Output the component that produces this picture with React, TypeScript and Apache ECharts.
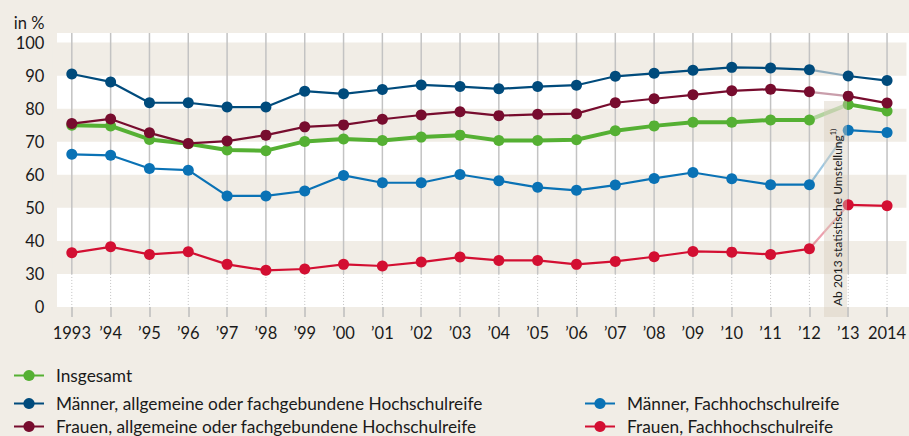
import React, { useEffect, useRef } from "react";
import * as echarts from "echarts";

const years = ["1993", "’94", "’95", "’96", "’97", "’98", "’99", "’00", "’01", "’02", "’03", "’04", "’05", "’06", "’07", "’08", "’09", "’10", "’11", "’12", "’13", "2014"];

const insgesamt = [75.0, 74.8, 70.7, 69.4, 67.5, 67.3, 70.1, 70.8, 70.4, 71.4, 72.0, 70.4, 70.4, 70.6, 73.3, 74.8, 75.9, 75.9, 76.6, 76.6, 81.3, 79.3];
const maennerAllg = [90.5, 88.1, 81.8, 81.8, 80.5, 80.5, 85.3, 84.5, 85.8, 87.2, 86.7, 86.0, 86.7, 87.1, 89.8, 90.7, 91.6, 92.5, 92.3, 91.8, 89.9, 88.5];
const frauenAllg = [75.5, 76.9, 72.7, 69.5, 70.2, 72.0, 74.5, 75.1, 76.8, 78.1, 79.1, 77.9, 78.3, 78.5, 81.8, 83.0, 84.2, 85.4, 85.9, 85.1, 83.8, 81.7];
const maennerFH = [66.2, 65.9, 61.9, 61.4, 53.6, 53.6, 55.1, 59.8, 57.6, 57.6, 60.1, 58.2, 56.2, 55.3, 56.9, 58.9, 60.7, 58.8, 57.0, 57.0, 73.5, 72.8];
const frauenFH = [36.4, 38.2, 35.9, 36.7, 32.9, 31.1, 31.5, 32.9, 32.4, 33.6, 35.1, 34.1, 34.1, 32.9, 33.8, 35.2, 36.8, 36.6, 35.9, 37.6, 50.9, 50.6];

const seriesNames = [
  "Insgesamt",
  "Männer, allgemeine oder fachgebundene Hochschulreife",
  "Frauen, allgemeine oder fachgebundene Hochschulreife",
  "Männer, Fachhochschulreife",
  "Frauen, Fachhochschulreife",
];

// alternating shaded bands of the value axis
const bandRanges = [[90, 100], [70, 80], [50, 60], [30, 40]];
const breakValue = 30; // below this the axis is broken (20 is shown as 0)
const axisBottom = 20;
const axisTop = 102.9;
const lastIndexBefore = 19; // 2012: statistical change afterwards
const annotationText = "Ab 2013 statistische Umstellung";
const annotationNote = "1)";

const BG = "#f1ede6";
const FONT = "Lato, 'Noto Sans', sans-serif";
const TXT = "#1a1a1a";

export default function App() {
  const ref = useRef<HTMLDivElement>(null);

  useEffect(() => {
    document.body.style.margin = "0";
    document.body.style.background = BG;
    const chart = echarts.init(ref.current!, null, { renderer: "svg" });

    const groups = [
      { name: seriesNames[0], data: insgesamt, color: "#55b033", width: 4, size: 11, z: 3 },
      { name: seriesNames[1], data: maennerAllg, color: "#004b7c", width: 2.2, size: 11, z: 4 },
      { name: seriesNames[3], data: maennerFH, color: "#0a72b5", width: 2.2, size: 11, z: 4 },
      { name: seriesNames[2], data: frauenAllg, color: "#770c2e", width: 2.2, size: 11, z: 5 },
      { name: seriesNames[4], data: frauenFH, color: "#d30f32", width: 2.2, size: 11, z: 5 },
    ];

    const lineSeries: any[] = [];
    groups.forEach((g) => {
      lineSeries.push({
        type: "line",
        name: g.name,
        data: g.data.map((v, i) => (i <= lastIndexBefore ? v : "-")),
        z: g.z,
        symbol: "circle",
        symbolSize: g.size,
        color: g.color,
        lineStyle: { color: g.color, width: g.width },
        itemStyle: { color: g.color },
      });
    });
    groups.forEach((g) => {
      lineSeries.push({
        type: "line",
        name: g.name,
        data: g.data.map((v, i) => (i > lastIndexBefore ? v : "-")),
        z: g.z,
        symbol: "circle",
        symbolSize: g.size,
        color: g.color,
        lineStyle: { color: g.color, width: g.width },
        itemStyle: { color: g.color },
      });
      lineSeries.push({
        type: "line",
        name: g.name,
        data: g.data.map((v, i) => (i === lastIndexBefore || i === lastIndexBefore + 1 ? v : "-")),
        z: g.z - 0.5,
        showSymbol: false,
        symbol: "none",
        color: g.color,
        lineStyle: { color: g.color, width: g.width, opacity: 0.4 },
      });
    });

    const legendBase = {
      orient: "horizontal",
      itemWidth: 30,
      itemHeight: 14,
      padding: 0,
      textStyle: { fontSize: 17.3, color: TXT, fontFamily: FONT, padding: [0, 0, 0, 7] },
    };

    const option: any = {
      animation: false,
      backgroundColor: BG,
      textStyle: { fontFamily: FONT },
      grid: { left: 52.4, top: 33, width: 862.2, height: 274 },
      xAxis: {
        type: "category",
        data: years,
        boundaryGap: true,
        axisLine: { show: false },
        axisTick: { show: true, interval: 0, alignWithLabel: true, length: 10, lineStyle: { color: "#bdbdbd", width: 1.5 } },
        axisLabel: { interval: 0, color: TXT, fontSize: 16.5, margin: 17, fontFamily: FONT },
        splitLine: { show: false },
      },
      yAxis: {
        type: "value",
        min: axisBottom,
        max: axisTop,
        interval: 10,
        name: "in %",
        nameLocation: "end",
        nameGap: 2,
        nameTextStyle: { color: TXT, fontSize: 16.5, align: "right", padding: [0, 8, 0, 0], fontFamily: FONT },
        axisLine: { show: false },
        axisTick: { show: false },
        splitLine: { show: false },
        axisLabel: {
          color: TXT,
          fontSize: 16.5,
          margin: 8,
          fontFamily: FONT,
          formatter: (v: number) => (v === axisBottom ? "0" : Math.abs(v % 10) < 1e-6 ? String(v) : ""),
        },
      },
      legend: [
        { ...legendBase, data: [seriesNames[0]], left: 13, top: 367 },
        { ...legendBase, data: [seriesNames[1]], left: 13, top: 395 },
        { ...legendBase, data: [seriesNames[2]], left: 13, top: 418 },
        { ...legendBase, data: [seriesNames[3]], left: 584, top: 395 },
        { ...legendBase, data: [seriesNames[4]], left: 584, top: 418 },
      ],
      graphic: [
        {
          type: "rect",
          z: 0,
          shape: { x: 57, y: 33, width: 852, height: 274 },
          style: { fill: "#ffffff" },
          silent: true,
        },
        {
          type: "rect",
          z: 20,
          shape: { x: 824, y: 101, width: 23, height: 216 },
          style: { fill: "rgba(215,205,188,0.42)" },
          silent: true,
        },
        {
          type: "text",
          z: 21,
          x: 837,
          y: 306,
          rotation: Math.PI / 2,
          style: {
            text: `{a|${annotationText}}{s|${annotationNote}}`,
            align: "left",
            verticalAlign: "middle",
            fill: TXT,
            fontFamily: FONT,
            rich: {
              a: { fontSize: 12, fill: TXT, fontFamily: FONT, lineHeight: 15 },
              s: { fontSize: 7.5, fill: TXT, fontFamily: FONT, verticalAlign: "top", lineHeight: 15 },
            },
          },
          silent: true,
        },
      ],
      series: [
        {
          type: "custom",
          z: 1,
          silent: true,
          data: bandRanges.map(([lo, hi]) => [0, lo, hi]),
          encode: { x: 0, y: [1, 2] },
          renderItem: (params: any, api: any) => {
            const cs = params.coordSys;
            const yLo = api.coord([0, api.value(1)])[1];
            const yHi = api.coord([0, api.value(2)])[1];
            return {
              type: "rect",
              shape: { x: cs.x, y: yHi, width: cs.width, height: yLo - yHi },
              style: { fill: BG },
            };
          },
        },
        {
          type: "custom",
          z: 1.5,
          silent: true,
          data: years.map((_, i) => [i]),
          encode: { x: 0 },
          renderItem: (params: any, api: any) => {
            const cs = params.coordSys;
            const idx = api.value(0);
            const p = api.coord([idx, breakValue]);
            return {
              type: "group",
              children: [
                {
                  type: "line",
                  shape: { x1: p[0], y1: cs.y, x2: p[0], y2: p[1] },
                  style: { stroke: "#c3c3c3", lineWidth: 1.5 },
                },
                {
                  type: "line",
                  shape: { x1: p[0], y1: p[1], x2: p[0], y2: cs.y + cs.height },
                  style: { stroke: "#c3c3c3", lineWidth: 1, lineDash: [1, 2] },
                },
              ],
            };
          },
        },
        ...lineSeries,
      ],
    };

    chart.setOption(option);
    return () => chart.dispose();
  }, []);

  return <div ref={ref} style={{ width: 909, height: 436, background: BG }} />;
}
